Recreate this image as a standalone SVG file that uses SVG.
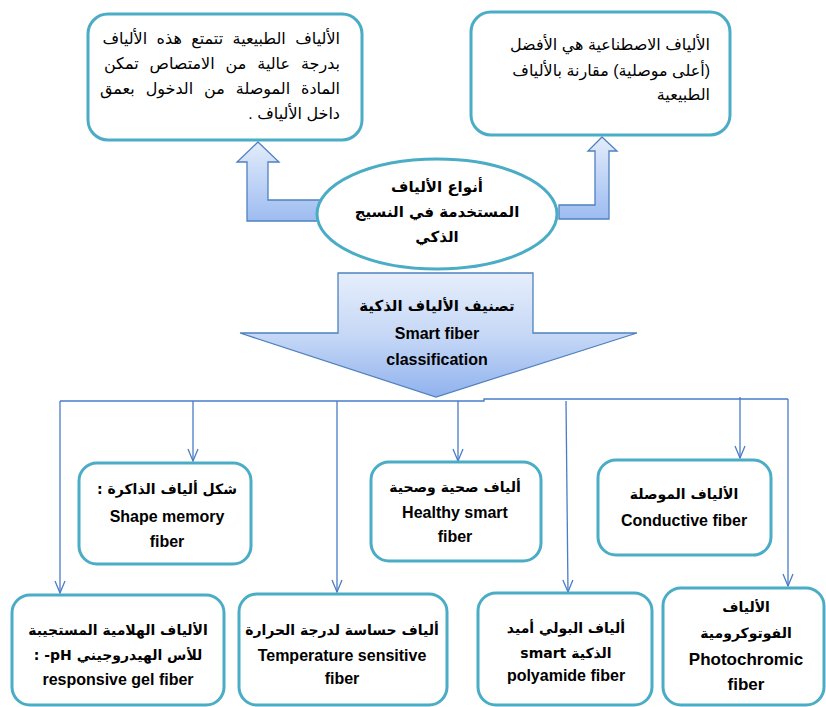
<svg xmlns="http://www.w3.org/2000/svg" width="826" height="707" viewBox="0 0 826 707">
<defs>
<linearGradient id="gA" x1="0" y1="0" x2="0" y2="1">
<stop offset="0" stop-color="#e3ecfb"/>
<stop offset="1" stop-color="#9dbcf1"/>
</linearGradient>
<linearGradient id="gB" x1="0" y1="0" x2="0" y2="1">
<stop offset="0" stop-color="#e6eefb"/>
<stop offset="0.5" stop-color="#c6d8f6"/>
<stop offset="1" stop-color="#90b2ee"/>
</linearGradient>
<marker id="ah" markerWidth="14" markerHeight="12" refX="13" refY="6" orient="auto" markerUnits="userSpaceOnUse" viewBox="0 0 14 12">
<path d="M1,1 L13,6 L1,11" fill="none" stroke="#4a7cc7" stroke-width="1.3"/>
</marker>
</defs>
<style>
.box{fill:#fff;stroke:#4bacc6;stroke-width:3}
.arr{stroke:#4f81bd;stroke-width:1.3}
.con{fill:none;stroke:#4a7cc7;stroke-width:1.3}
.ar{font-family:"Liberation Sans","DejaVu Sans",sans-serif;font-size:16px;fill:#000}
.b{font-family:"Liberation Sans",Arial,sans-serif;font-size:16px;font-weight:bold;fill:#000;text-anchor:middle}
.ab{font-family:"DejaVu Sans",sans-serif;font-size:14px;font-weight:bold;fill:#000;text-anchor:middle}
</style>
<rect width="826" height="707" fill="#fff"/>

<g id="connectors">
<polygon class="arr" fill="url(#gA)" points="258,142 279,162 268,162 268,200 330,200 330,221 247,221 247,162 237,162"/>
<polygon class="arr" fill="url(#gA)" points="602,137 617,151 609,151 609,219 559,219 559,205 595,205 595,151 588,151"/>
<polyline class="con" points="60,401 484,401 484,399 788,399"/>
<line class="con" x1="60" y1="401" x2="60" y2="593" marker-end="url(#ah)"/>
<line class="con" x1="193" y1="401" x2="193" y2="461" marker-end="url(#ah)"/>
<line class="con" x1="337" y1="401" x2="337" y2="592" marker-end="url(#ah)"/>
<line class="con" x1="458" y1="401" x2="458" y2="461" marker-end="url(#ah)"/>
<line class="con" x1="566" y1="401" x2="568" y2="592" marker-end="url(#ah)"/>
<line class="con" x1="740" y1="397" x2="740" y2="458" marker-end="url(#ah)"/>
<line class="con" x1="788" y1="399" x2="788" y2="586" marker-end="url(#ah)"/>
</g>

<g id="natural">
<rect class="box" x="88" y="14" width="274" height="126" rx="20"/>
<text class="ar" direction="rtl" x="340" y="44" word-spacing="5">الألياف الطبيعية تتمتع هذه الألياف</text>
<text class="ar" direction="rtl" x="340" y="69" word-spacing="6.5">بدرجة عالية من الامتصاص تمكن</text>
<text class="ar" direction="rtl" x="340" y="94" word-spacing="6.5">المادة الموصلة من الدخول بعمق</text>
<text class="ar" direction="rtl" x="340" y="119">داخل الألياف .</text>
</g>

<g id="synthetic">
<rect class="box" x="471" y="12" width="259" height="123" rx="20"/>
<text class="ar" direction="rtl" x="710" y="50">الألياف الاصطناعية هي الأفضل</text>
<text class="ar" direction="rtl" x="710" y="76">(أعلى موصلية) مقارنة بالألياف</text>
<text class="ar" direction="rtl" x="710" y="100">الطبيعية</text>
</g>

<g id="types">
<ellipse cx="437" cy="214" rx="120" ry="55" fill="#fff" stroke="#4bacc6" stroke-width="3"/>
<text class="ab" x="437" y="192" direction="rtl" style="font-size:15px">أنواع الألياف</text>
<text class="ab" x="437" y="217" direction="rtl" style="font-size:15px">المستخدمة في النسيج</text>
<text class="ab" x="437" y="242" direction="rtl" style="font-size:15px">الذكي</text>
</g>

<g id="classification">
<polygon class="arr" fill="url(#gB)" points="338,273 533,273 533,333 637,333 436,397 240,333 338,333"/>
<text class="ab" x="437" y="311" direction="rtl" style="font-size:15px">تصنيف الألياف الذكية</text>
<text class="b" x="437" y="339">Smart fiber</text>
<text class="b" x="437" y="365">classification</text>
</g>

<g id="shape-memory">
<rect class="box" x="79" y="463" width="172" height="101" rx="18"/>
<text class="ab" x="167" y="494" direction="rtl">شكل ألياف الذاكرة  :</text>
<text class="b" x="167" y="522">Shape memory</text>
<text class="b" x="167" y="547">fiber</text>
</g>

<g id="healthy">
<rect class="box" x="371" y="462" width="170" height="99" rx="18"/>
<text class="ab" x="455" y="492" direction="rtl">ألياف صحية وصحية</text>
<text class="b" x="455" y="518">Healthy smart</text>
<text class="b" x="455" y="542">fiber</text>
</g>

<g id="conductive">
<rect class="box" x="598" y="460" width="173" height="95" rx="18"/>
<text class="ab" x="684" y="499" direction="rtl">الألياف الموصلة</text>
<text class="b" x="684" y="526">Conductive fiber</text>
</g>

<g id="ph-gel">
<rect class="box" x="12" y="595" width="212" height="110" rx="18"/>
<text class="ab" x="118" y="635" direction="rtl">الألياف الهلامية المستجيبة</text>
<text class="ab" x="118" y="660" direction="rtl">للأس الهيدروجيني ‎-pH‏ :</text>
<text class="b" x="118" y="685">responsive gel fiber</text>
</g>

<g id="temperature">
<rect class="box" x="239" y="594" width="208" height="111" rx="18"/>
<text class="ab" x="342" y="635" direction="rtl">ألياف حساسة لدرجة الحرارة</text>
<text class="b" x="342" y="661">Temperature sensitive</text>
<text class="b" x="342" y="684">fiber</text>
</g>

<g id="polyamide">
<rect class="box" x="478" y="593" width="174" height="112" rx="18"/>
<text class="ab" x="566" y="633" direction="rtl">ألياف البولي أميد</text>
<text class="ab" x="566" y="658" direction="rtl">الذكية smart</text>
<text class="b" x="566" y="681">polyamide fiber</text>
</g>

<g id="photochromic">
<rect class="box" x="663" y="588" width="161" height="117" rx="18"/>
<text class="ab" x="746" y="612" direction="rtl">الألياف</text>
<text class="ab" x="746" y="638" direction="rtl">الفوتوكرومية</text>
<text class="b" x="746" y="665" style="font-size:17px">Photochromic</text>
<text class="b" x="746" y="690" style="font-size:17px">fiber</text>
</g>
</svg>
